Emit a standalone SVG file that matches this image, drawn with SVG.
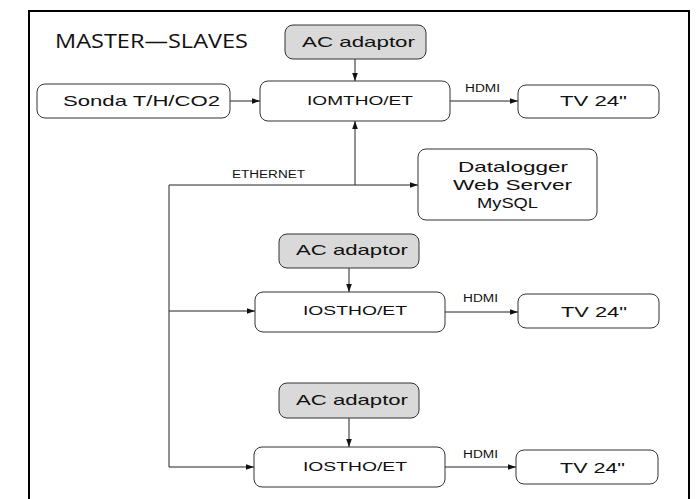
<svg xmlns="http://www.w3.org/2000/svg" width="700" height="499" viewBox="0 0 700 499">
<defs>
<marker id="ah" viewBox="0 0 10 10" refX="10" refY="5" markerWidth="8" markerHeight="8" markerUnits="userSpaceOnUse" orient="auto">
<path d="M0,1.5 L10,5 L0,8.5 z" fill="#111"/>
</marker>
<style>
.box{fill:#fff;stroke:#333;stroke-width:1}
.ac{fill:#d9d9d9;stroke:#333;stroke-width:1}
.t{font-family:"Liberation Sans",Arial,sans-serif;fill:#111}
.l{font-size:15px}
.m{font-size:13px}
.s{font-size:10px}
.c{fill:none;stroke:#222;stroke-width:1}
.ca{fill:none;stroke:#222;stroke-width:1;marker-end:url(#ah)}
</style>
</defs>
<rect x="0" y="0" width="700" height="499" fill="#fff"/>
<rect x="29" y="11" width="660" height="500" fill="none" stroke="#000" stroke-width="2"/>
<text x="55" y="48" textLength="193" lengthAdjust="spacingAndGlyphs" style="font-family:'Open Sans','Noto Sans',sans-serif;font-size:20px;fill:#111">MASTER—SLAVES</text>

<g id="connectors">
<line class="ca" x1="355" y1="59" x2="355" y2="81"/>
<line class="ca" x1="230" y1="101" x2="260" y2="101"/>
<line class="ca" x1="450" y1="101" x2="518" y2="101"/>
<polyline class="c" points="355,185 169,185 169,311"/>
<line class="ca" x1="355" y1="185" x2="355" y2="121"/>
<line class="ca" x1="355" y1="185" x2="418" y2="185"/>
<line class="ca" x1="169" y1="311" x2="255" y2="311"/>
<polyline class="ca" points="169,311 169,467 254,467"/>
<line class="ca" x1="349" y1="268" x2="349" y2="292"/>
<line class="ca" x1="445" y1="312" x2="518" y2="312"/>
<line class="ca" x1="349" y1="418" x2="349" y2="447"/>
<line class="ca" x1="445" y1="467" x2="516" y2="467"/>
<text class="t s" x="232" y="178" textLength="73" lengthAdjust="spacingAndGlyphs">ETHERNET</text>
<text class="t s" x="465" y="92" textLength="35" lengthAdjust="spacingAndGlyphs">HDMI</text>
<text class="t s" x="463" y="302" textLength="35" lengthAdjust="spacingAndGlyphs">HDMI</text>
<text class="t s" x="463" y="458" textLength="35" lengthAdjust="spacingAndGlyphs">HDMI</text>
</g>

<g id="ac1">
<rect class="ac" x="285" y="25" width="141" height="34" rx="8"/>
<text class="t l" x="302" y="47" textLength="113" lengthAdjust="spacingAndGlyphs">AC adaptor</text>
</g>
<g id="sonda">
<rect class="box" x="37" y="84" width="193" height="34" rx="8"/>
<text class="t l" x="63" y="106" textLength="157" lengthAdjust="spacingAndGlyphs">Sonda T/H/CO2</text>
</g>
<g id="iomtho">
<rect class="box" x="260" y="81" width="190" height="40" rx="8"/>
<text class="t m" x="307" y="105" textLength="106" lengthAdjust="spacingAndGlyphs">IOMTHO/ET</text>
</g>
<g id="tv1">
<rect class="box" x="518" y="85" width="141" height="33" rx="8"/>
<text class="t l" x="560" y="106" textLength="67" lengthAdjust="spacingAndGlyphs">TV 24"</text>
</g>
<g id="datalogger">
<rect class="box" x="418" y="149" width="179" height="71" rx="8"/>
<text class="t l" x="458" y="172" textLength="110" lengthAdjust="spacingAndGlyphs">Datalogger</text>
<text class="t l" x="453" y="190" textLength="119" lengthAdjust="spacingAndGlyphs">Web Server</text>
<text class="t l" x="477" y="208" textLength="61" lengthAdjust="spacingAndGlyphs">MySQL</text>
</g>
<g id="ac2">
<rect class="ac" x="279" y="234" width="140" height="34" rx="8"/>
<text class="t l" x="296" y="255" textLength="112" lengthAdjust="spacingAndGlyphs">AC adaptor</text>
</g>
<g id="iostho1">
<rect class="box" x="255" y="292" width="190" height="40" rx="8"/>
<text class="t m" x="303" y="315" textLength="104" lengthAdjust="spacingAndGlyphs">IOSTHO/ET</text>
</g>
<g id="tv2">
<rect class="box" x="518" y="294" width="141" height="34" rx="8"/>
<text class="t l" x="561" y="317" textLength="66" lengthAdjust="spacingAndGlyphs">TV 24"</text>
</g>
<g id="ac3">
<rect class="ac" x="279" y="383" width="140" height="35" rx="8"/>
<text class="t l" x="296" y="405" textLength="112" lengthAdjust="spacingAndGlyphs">AC adaptor</text>
</g>
<g id="iostho2">
<rect class="box" x="254" y="447" width="191" height="40" rx="8"/>
<text class="t m" x="303" y="471" textLength="104" lengthAdjust="spacingAndGlyphs">IOSTHO/ET</text>
</g>
<g id="tv3">
<rect class="box" x="516" y="450" width="142" height="34" rx="8"/>
<text class="t l" x="560" y="473" textLength="65" lengthAdjust="spacingAndGlyphs">TV 24"</text>
</g>
</svg>
